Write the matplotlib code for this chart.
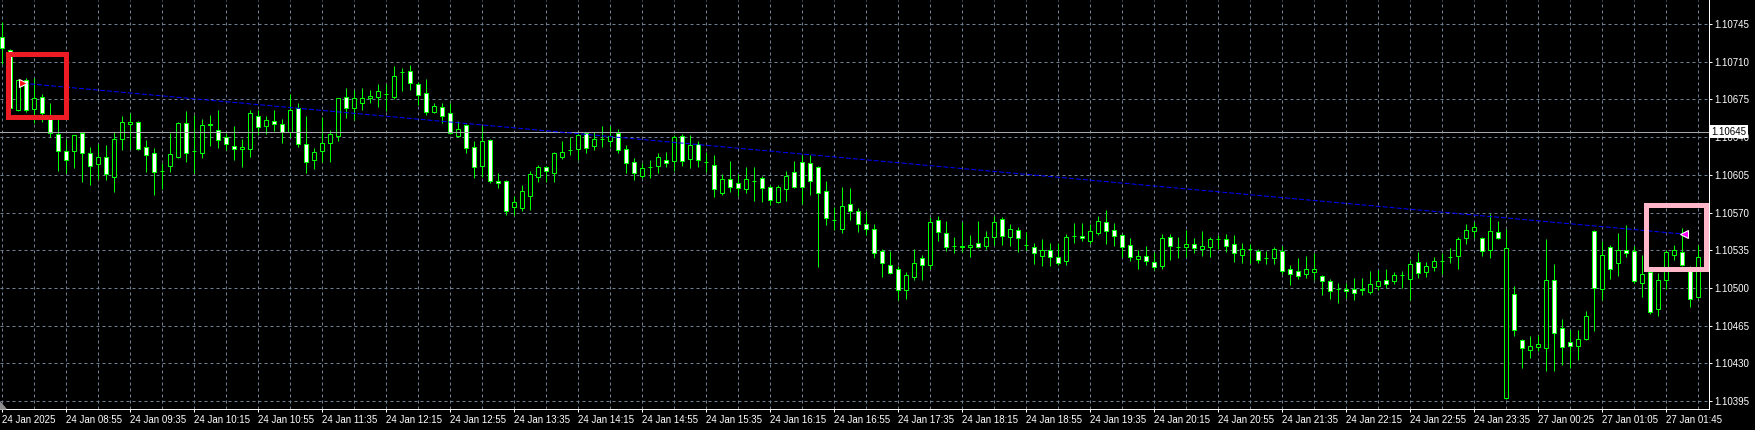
import numpy as np
import matplotlib
matplotlib.use("Agg")
import matplotlib.pyplot as plt
from matplotlib.patches import Rectangle

plt.rcParams['font.family'] = ['Liberation Sans', 'DejaVu Sans']

# 5 minute candles, 24 Jan 08:15 -> 27 Jan 02:10 (one entry per bar)
opens = [
    1.10733, 1.10721, 1.10665, 1.10693, 1.10666, 1.10677, 1.10661, 1.10643, 1.10627, 1.10627,
    1.10644, 1.10625, 1.10615, 1.10622, 1.10603, 1.10638, 1.10652, 1.10654, 1.10631, 1.10625,
    1.10609, 1.10613, 1.10622, 1.10653, 1.10627, 1.10625, 1.10652, 1.10647, 1.10640, 1.10632,
    1.10629, 1.10629, 1.10660, 1.10650, 1.10655, 1.10652, 1.10645, 1.10667, 1.10634, 1.10619,
    1.10627, 1.10635, 1.10641, 1.10677, 1.10667, 1.10672, 1.10676, 1.10677, 1.10680, 1.10677,
    1.10700, 1.10701, 1.10689, 1.10681, 1.10663, 1.10668, 1.10662, 1.10641, 1.10651, 1.10631,
    1.10613, 1.10637, 1.10599, 1.10599, 1.10575, 1.10574, 1.10585, 1.10603, 1.10612, 1.10607,
    1.10622, 1.10628, 1.10629, 1.10644, 1.10632, 1.10638, 1.10636, 1.10644, 1.10629, 1.10617,
    1.10604, 1.10612, 1.10613, 1.10619, 1.10618, 1.10641, 1.10620, 1.10634, 1.10617, 1.10614,
    1.10588, 1.10601, 1.10597, 1.10592, 1.10599, 1.10602, 1.10594, 1.10580, 1.10592, 1.10608,
    1.10617, 1.10616, 1.10612, 1.10590, 1.10563, 1.10555, 1.10578, 1.10571, 1.10559, 1.10555,
    1.10534, 1.10521, 1.10518, 1.10498, 1.10510, 1.10528, 1.10521, 1.10563, 1.10551, 1.10539,
    1.10539, 1.10538, 1.10542, 1.10539, 1.10547, 1.10564, 1.10547, 1.10554, 1.10540, 1.10538,
    1.10530, 1.10535, 1.10529, 1.10525, 1.10548, 1.10548, 1.10544, 1.10551, 1.10561, 1.10554,
    1.10549, 1.10540, 1.10527, 1.10530, 1.10524, 1.10520, 1.10547, 1.10538, 1.10538, 1.10541,
    1.10536, 1.10538, 1.10545, 1.10545, 1.10541, 1.10531, 1.10536, 1.10534, 1.10528, 1.10528,
    1.10534, 1.10518, 1.10516, 1.10513, 1.10515, 1.10511, 1.10506, 1.10499, 1.10499, 1.10499,
    1.10498, 1.10496, 1.10502, 1.10507, 1.10506, 1.10512, 1.10508, 1.10524, 1.10515, 1.10519,
    1.10525, 1.10529, 1.10530, 1.10546, 1.10553, 1.10546, 1.10535, 1.10552, 1.10398, 1.10494,
    1.10452, 1.10442, 1.10445, 1.10444, 1.10507, 1.10463, 1.10450, 1.10446, 1.10453, 1.10553,
    1.10499, 1.10538, 1.10523, 1.10535, 1.10534, 1.10505, 1.10515, 1.10480, 1.10507, 1.10531,
    1.10533, 1.10519, 1.10492, 1.10524,
]
highs = [
    1.10747, 1.10722, 1.10694, 1.10695, 1.10695, 1.10680, 1.10672, 1.10658, 1.10638, 1.10642,
    1.10645, 1.10631, 1.10634, 1.10633, 1.10645, 1.10660, 1.10662, 1.10655, 1.10637, 1.10630,
    1.10616, 1.10644, 1.10654, 1.10664, 1.10661, 1.10657, 1.10661, 1.10665, 1.10644, 1.10650,
    1.10638, 1.10665, 1.10665, 1.10660, 1.10665, 1.10657, 1.10680, 1.10672, 1.10660, 1.10630,
    1.10659, 1.10647, 1.10676, 1.10686, 1.10684, 1.10686, 1.10684, 1.10689, 1.10689, 1.10706,
    1.10704, 1.10707, 1.10691, 1.10694, 1.10672, 1.10672, 1.10672, 1.10655, 1.10652, 1.10636,
    1.10650, 1.10638, 1.10607, 1.10600, 1.10585, 1.10596, 1.10609, 1.10614, 1.10613, 1.10626,
    1.10636, 1.10640, 1.10644, 1.10645, 1.10645, 1.10650, 1.10650, 1.10648, 1.10633, 1.10621,
    1.10616, 1.10619, 1.10625, 1.10626, 1.10642, 1.10643, 1.10642, 1.10636, 1.10626, 1.10623,
    1.10606, 1.10618, 1.10606, 1.10612, 1.10612, 1.10604, 1.10596, 1.10596, 1.10609, 1.10618,
    1.10623, 1.10623, 1.10613, 1.10599, 1.10575, 1.10594, 1.10593, 1.10574, 1.10571, 1.10559,
    1.10536, 1.10534, 1.10520, 1.10515, 1.10536, 1.10531, 1.10566, 1.10567, 1.10562, 1.10547,
    1.10561, 1.10549, 1.10562, 1.10553, 1.10567, 1.10566, 1.10559, 1.10557, 1.10552, 1.10542,
    1.10545, 1.10542, 1.10542, 1.10550, 1.10560, 1.10560, 1.10559, 1.10567, 1.10572, 1.10560,
    1.10550, 1.10546, 1.10535, 1.10539, 1.10533, 1.10550, 1.10550, 1.10547, 1.10554, 1.10546,
    1.10553, 1.10547, 1.10549, 1.10550, 1.10549, 1.10542, 1.10541, 1.10536, 1.10534, 1.10538,
    1.10539, 1.10521, 1.10528, 1.10530, 1.10532, 1.10512, 1.10508, 1.10505, 1.10505, 1.10509,
    1.10509, 1.10516, 1.10517, 1.10518, 1.10515, 1.10516, 1.10526, 1.10533, 1.10524, 1.10529,
    1.10532, 1.10537, 1.10547, 1.10559, 1.10561, 1.10547, 1.10569, 1.10562, 1.10555, 1.10502,
    1.10453, 1.10455, 1.10456, 1.10545, 1.10522, 1.10471, 1.10461, 1.10461, 1.10479, 1.10554,
    1.10544, 1.10540, 1.10551, 1.10558, 1.10539, 1.10531, 1.10519, 1.10514, 1.10535, 1.10540,
    1.10556, 1.10520, 1.10540, 1.10547,
]
lows = [
    1.10708, 1.10665, 1.10664, 1.10663, 1.10653, 1.10654, 1.10640, 1.10609, 1.10607, 1.10611,
    1.10598, 1.10596, 1.10601, 1.10600, 1.10589, 1.10628, 1.10629, 1.10628, 1.10608, 1.10586,
    1.10592, 1.10608, 1.10621, 1.10617, 1.10607, 1.10621, 1.10632, 1.10630, 1.10628, 1.10619,
    1.10612, 1.10622, 1.10642, 1.10643, 1.10646, 1.10635, 1.10640, 1.10631, 1.10607, 1.10610,
    1.10617, 1.10617, 1.10636, 1.10658, 1.10656, 1.10665, 1.10672, 1.10668, 1.10664, 1.10675,
    1.10683, 1.10684, 1.10670, 1.10661, 1.10662, 1.10653, 1.10643, 1.10640, 1.10625, 1.10602,
    1.10603, 1.10597, 1.10593, 1.10568, 1.10568, 1.10571, 1.10572, 1.10598, 1.10598, 1.10598,
    1.10620, 1.10623, 1.10619, 1.10625, 1.10628, 1.10631, 1.10631, 1.10625, 1.10607, 1.10600,
    1.10602, 1.10602, 1.10607, 1.10612, 1.10609, 1.10613, 1.10611, 1.10612, 1.10608, 1.10584,
    1.10586, 1.10589, 1.10585, 1.10588, 1.10581, 1.10580, 1.10577, 1.10579, 1.10581, 1.10593,
    1.10578, 1.10586, 1.10519, 1.10558, 1.10554, 1.10551, 1.10563, 1.10552, 1.10549, 1.10528,
    1.10510, 1.10513, 1.10489, 1.10490, 1.10507, 1.10507, 1.10518, 1.10544, 1.10534, 1.10532,
    1.10533, 1.10529, 1.10537, 1.10536, 1.10540, 1.10540, 1.10539, 1.10533, 1.10535, 1.10522,
    1.10520, 1.10520, 1.10521, 1.10521, 1.10542, 1.10544, 1.10541, 1.10549, 1.10541, 1.10539,
    1.10529, 1.10525, 1.10518, 1.10521, 1.10517, 1.10518, 1.10526, 1.10528, 1.10529, 1.10532,
    1.10530, 1.10529, 1.10536, 1.10533, 1.10524, 1.10523, 1.10523, 1.10523, 1.10522, 1.10522,
    1.10513, 1.10503, 1.10508, 1.10509, 1.10507, 1.10493, 1.10490, 1.10486, 1.10491, 1.10489,
    1.10493, 1.10494, 1.10498, 1.10500, 1.10504, 1.10500, 1.10489, 1.10509, 1.10510, 1.10516,
    1.10513, 1.10523, 1.10518, 1.10541, 1.10546, 1.10530, 1.10528, 1.10545, 1.10397, 1.10455,
    1.10426, 1.10435, 1.10441, 1.10423, 1.10423, 1.10428, 1.10426, 1.10433, 1.10452, 1.10460,
    1.10489, 1.10508, 1.10511, 1.10529, 1.10505, 1.10492, 1.10476, 1.10474, 1.10499, 1.10526,
    1.10520, 1.10482, 1.10491, 1.10519,
]
closes = [
    1.10723, 1.10667, 1.10693, 1.10665, 1.10676, 1.10662, 1.10644, 1.10627, 1.10619, 1.10642,
    1.10625, 1.10613, 1.10622, 1.10606, 1.10638, 1.10654, 1.10654, 1.10629, 1.10623, 1.10608,
    1.10609, 1.10624, 1.10653, 1.10625, 1.10627, 1.10651, 1.10651, 1.10637, 1.10634, 1.10629,
    1.10631, 1.10662, 1.10649, 1.10656, 1.10652, 1.10645, 1.10665, 1.10634, 1.10617, 1.10626,
    1.10635, 1.10643, 1.10676, 1.10667, 1.10676, 1.10676, 1.10678, 1.10683, 1.10680, 1.10697,
    1.10700, 1.10690, 1.10679, 1.10663, 1.10669, 1.10660, 1.10644, 1.10648, 1.10630, 1.10612,
    1.10636, 1.10599, 1.10597, 1.10571, 1.10580, 1.10590, 1.10606, 1.10612, 1.10609, 1.10625,
    1.10626, 1.10628, 1.10642, 1.10630, 1.10638, 1.10638, 1.10641, 1.10628, 1.10616, 1.10607,
    1.10611, 1.10612, 1.10622, 1.10616, 1.10640, 1.10618, 1.10633, 1.10619, 1.10617, 1.10592,
    1.10601, 1.10594, 1.10593, 1.10601, 1.10599, 1.10593, 1.10582, 1.10594, 1.10604, 1.10594,
    1.10594, 1.10599, 1.10588, 1.10565, 1.10563, 1.10576, 1.10571, 1.10559, 1.10555, 1.10532,
    1.10523, 1.10514, 1.10498, 1.10512, 1.10523, 1.10521, 1.10561, 1.10552, 1.10538, 1.10539,
    1.10538, 1.10540, 1.10538, 1.10547, 1.10561, 1.10548, 1.10555, 1.10546, 1.10540, 1.10532,
    1.10535, 1.10529, 1.10523, 1.10547, 1.10548, 1.10546, 1.10553, 1.10562, 1.10553, 1.10548,
    1.10538, 1.10529, 1.10530, 1.10525, 1.10519, 1.10546, 1.10539, 1.10538, 1.10541, 1.10537,
    1.10539, 1.10545, 1.10545, 1.10539, 1.10532, 1.10536, 1.10536, 1.10526, 1.10528, 1.10536,
    1.10516, 1.10513, 1.10511, 1.10518, 1.10518, 1.10506, 1.10497, 1.10499, 1.10497, 1.10495,
    1.10499, 1.10504, 1.10506, 1.10504, 1.10512, 1.10512, 1.10522, 1.10514, 1.10520, 1.10525,
    1.10525, 1.10529, 1.10545, 1.10554, 1.10557, 1.10534, 1.10553, 1.10546, 1.10537, 1.10461,
    1.10444, 1.10446, 1.10448, 1.10507, 1.10458, 1.10445, 1.10446, 1.10453, 1.10474, 1.10500,
    1.10531, 1.10518, 1.10535, 1.10532, 1.10506, 1.10513, 1.10478, 1.10507, 1.10533, 1.10535,
    1.10521, 1.10490, 1.10529, 1.10540,
]

# time axis labels, one every 8 bars
time_labels = ['24 Jan 2025', '24 Jan 08:55', '24 Jan 09:35', '24 Jan 10:15', '24 Jan 10:55',
               '24 Jan 11:35', '24 Jan 12:15', '24 Jan 12:55', '24 Jan 13:35', '24 Jan 14:15',
               '24 Jan 14:55', '24 Jan 15:35', '24 Jan 16:15', '24 Jan 16:55', '24 Jan 17:35',
               '24 Jan 18:15', '24 Jan 18:55', '24 Jan 19:35', '24 Jan 20:15', '24 Jan 20:55',
               '24 Jan 21:35', '24 Jan 22:15', '24 Jan 22:55', '24 Jan 23:35', '27 Jan 00:25',
               '27 Jan 01:05', '27 Jan 01:45']
label_step = 8
grid_step = 4

price_levels = [1.10395, 1.10430, 1.10465, 1.10500, 1.10535, 1.10570,
                1.10605, 1.10640, 1.10675, 1.10710, 1.10745]
hline_price = 1.10645

# trend line anchors (bar index, price)
trend_x = [2.65, 210.2]
trend_y = [1.10690, 1.10550]

# highlight boxes: (bar left, price low, bar right, price high)
red_box = (0.81, 1.10659, 7.94, 1.10717)
pink_box = (205.56, 1.10518, 212.94, 1.10577)

W, H = 1755, 430
fig = plt.figure(figsize=(W / 100, H / 100), dpi=100, facecolor='black')
ax = fig.add_axes([0, 21 / H, 1709 / W, 1 - 21 / H])
ax.set_facecolor('black')

px = 0.72  # one pixel in points
lime = '#00ff00'
gridc = '#6f8093'

x = np.arange(len(opens))
o = np.array(opens)
c = np.array(closes)

# grid
for gx in range(0, len(opens), grid_step):
    ax.axvline(gx, color=gridc, lw=px, dashes=(3, 3), zorder=0)
for p in price_levels:
    ax.axhline(p, color=gridc, lw=px, dashes=(3, 3), zorder=0)

# candles
ax.vlines(x, lows, highs, color=lime, lw=px, zorder=2)
bottoms = np.minimum(o, c)
heights = np.abs(c - o)
fills = np.where(c < o, 'white', 'black')
ax.bar(x, heights, bottom=bottoms, width=0.5, color=fills, edgecolor=lime,
       linewidth=px, zorder=3)

# horizontal price line
ax.axhline(hline_price, color='#a4a8ac', lw=px, zorder=4)

# trend line with its end arrows
ax.plot(trend_x, trend_y, color='#0000ff', lw=px, dashes=(5, 2), zorder=4)
ax.plot(trend_x[0], trend_y[0], marker='>', ms=6, color='#ff1010', mec='white', mew=0.8, zorder=6)
ax.plot(trend_x[1], trend_y[1], marker='<', ms=6, color='#ff00ff', mec='white', mew=0.8, zorder=6)

# highlight boxes
for (x0, y0, x1, y1), col in [(red_box, '#ed1c24'), (pink_box, '#ffb7c9')]:
    ax.add_patch(Rectangle((x0, y0), x1 - x0, y1 - y0, fill=False, ec=col,
                           lw=5 * px, joinstyle='miter', zorder=7))

ax.set_xlim(-0.25, 213.375)
ax.set_ylim(1.103876, 1.107673)

# axes look
for s in ['left', 'top']:
    ax.spines[s].set_visible(False)
for s in ['right', 'bottom']:
    ax.spines[s].set_color('white')
    ax.spines[s].set_linewidth(px)

ax.yaxis.tick_right()
ax.set_yticks(price_levels)
ax.set_yticklabels([f'{p:.5f}' for p in price_levels])
ax.tick_params(axis='y', colors='white', length=3 * px, width=px, pad=1.5, labelsize=7)

ax.set_xticks(np.arange(0, len(opens), label_step)[:len(time_labels)])
ax.set_xticklabels(time_labels, ha='left')
ax.tick_params(axis='x', colors='white', length=3 * px, width=px, pad=2.5, labelsize=7)

ax.text(1.0015, hline_price, f'{hline_price:.5f}', transform=ax.get_yaxis_transform(),
        ha='left', va='center', fontsize=7, color='black', zorder=10,
        bbox=dict(boxstyle='square,pad=0.15', fc='white', ec='none'))

# small shift marker in the corner
ax.fill([0, 6 / 1709, 0], [0, 0, 7 / 409], color='#8c8c8c', transform=ax.transAxes,
        clip_on=False, zorder=8)

fig.savefig('out.png', dpi=100, facecolor='black')
